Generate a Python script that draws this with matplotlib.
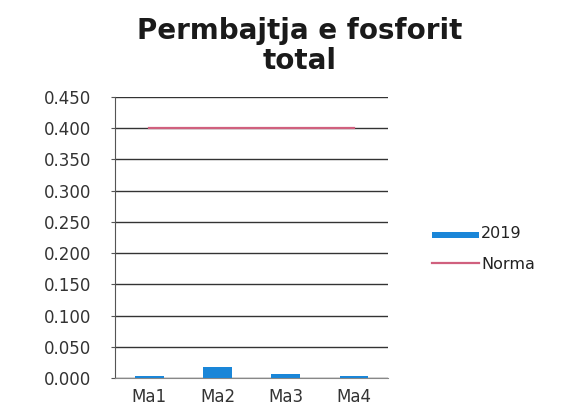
import matplotlib.pyplot as plt
import numpy as np

categories = ['Ma1', 'Ma2', 'Ma3', 'Ma4']
values_2019 = [0.003, 0.018, 0.006, 0.003]
norma = [0.400, 0.400, 0.400, 0.400]
yticks = [0.0, 0.05, 0.10, 0.15, 0.20, 0.25, 0.30, 0.35, 0.40, 0.45]

fig = plt.figure(figsize=(5.7, 4.11), dpi=100)
ax = fig.add_axes([0.202, 0.080, 0.479, 0.684])

x = np.arange(len(categories))
bars = ax.bar(x, values_2019, width=0.42, color='#1a86d8', label='2019', zorder=3)
line, = ax.plot(x, norma, color='#d0607e', lw=1.6, label='Norma', zorder=3)

ax.set_xlim(-0.5, len(categories) - 0.5)
ax.set_ylim(0, 0.45)
ax.set_yticks(yticks)
ax.set_yticklabels(['{:.3f}'.format(v) for v in yticks])
ax.set_xticks(x)
ax.set_xticklabels(categories)
ax.yaxis.grid(True, color='#333333', lw=1.0)
ax.set_axisbelow(True)
for side in ['top', 'right']:
    ax.spines[side].set_visible(False)
ax.spines['left'].set_color('#555555')
ax.spines['bottom'].set_color('#888888')
ax.tick_params(axis='y', length=3, color='#555555', labelsize=12, labelcolor='#333333', pad=14)
ax.tick_params(axis='x', length=0, labelsize=12, labelcolor='#333333', pad=7)

fig.text(0.525, 0.888, 'Permbajtja e fosforit\ntotal', ha='center', va='center',
         fontsize=20, fontweight='bold', linespacing=1.05, color='#1a1a1a')

leg = fig.legend(handles=[bars, line], labels=['2019', 'Norma'],
                 loc='center left', bbox_to_anchor=(0.733, 0.395), frameon=False,
                 prop={'size': 11.5},
                 handlelength=2.9, labelspacing=1.0, handletextpad=0.15)
leg.legend_handles[0].set_height(4)
for t in leg.get_texts():
    t.set_color('#222222')

fig.savefig('out.png', dpi=100)
